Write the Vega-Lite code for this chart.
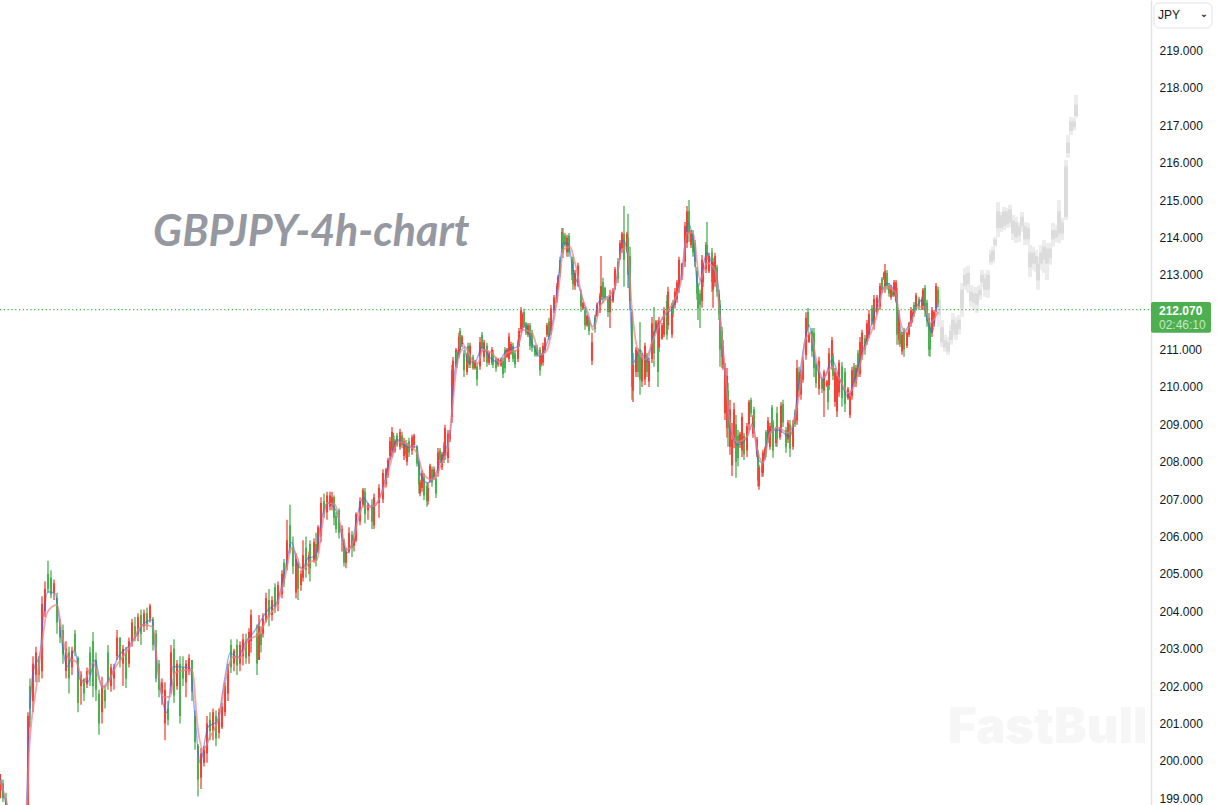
{
"$schema":"https://vega.github.io/schema/vega-lite/v6.json",
"width":1151,"height":805,
"autosize":{"type":"none"},
"padding":{"left":0,"top":0,"right":66,"bottom":0},
"background":"#ffffff",
"config":{"view":{"stroke":null}},
"datasets":{
"candles":[
{"t":1,"o":199.2,"h":199.65,"l":199.0,"c":199.5},{"t":6,"o":199.4,"h":199.5,"l":198.9,"c":199.0},{"t":12,"o":199.0,"h":199.15,"l":198.6,"c":198.7},
{"t":56,"o":198.7,"h":201.3,"l":198.5,"c":201.2},{"t":60,"o":202.0,"h":202.2,"l":200.9,"c":201.4},{"t":66,"o":201.6,"h":202.8,"l":201.3,"c":202.6},{"t":72,"o":202.3,"h":203.05,"l":202.1,"c":202.9},{"t":78,"o":202.7,"h":202.8,"l":202.1,"c":202.3},{"t":84,"o":202.4,"h":204.4,"l":202.2,"c":204.2},{"t":90,"o":204.0,"h":204.8,"l":203.85,"c":204.6},{"t":96,"o":205.0,"h":205.35,"l":204.5,"c":204.6},{"t":102,"o":204.9,"h":205.1,"l":204.35,"c":204.45},{"t":108,"o":204.5,"h":204.85,"l":204.3,"c":204.75},{"t":114,"o":204.35,"h":204.5,"l":203.4,"c":203.7},{"t":120,"o":203.6,"h":203.8,"l":203.15,"c":203.3},{"t":126,"o":203.5,"h":203.65,"l":202.6,"c":202.85},{"t":132,"o":202.4,"h":203.2,"l":202.2,"c":203.0},{"t":138,"o":202.9,"h":203.05,"l":201.8,"c":202.2},{"t":144,"o":202.5,"h":203.05,"l":202.3,"c":202.95},{"t":150,"o":203.4,"h":203.5,"l":202.8,"c":202.95},{"t":156,"o":202.75,"h":202.8,"l":201.3,"c":201.55},{"t":162,"o":202.0,"h":202.4,"l":201.5,"c":202.3},{"t":168,"o":202.2,"h":202.2,"l":201.6,"c":201.8},{"t":174,"o":202.05,"h":202.5,"l":201.95,"c":202.4},{"t":180,"o":202.9,"h":203.05,"l":202.0,"c":202.3},{"t":186,"o":203.2,"h":203.45,"l":201.7,"c":202.0},{"t":192,"o":202.7,"h":202.9,"l":201.6,"c":201.9},{"t":198,"o":201.8,"h":201.9,"l":200.7,"c":201.0},{"t":204,"o":201.3,"h":202.25,"l":201.0,"c":202.0},{"t":210,"o":201.9,"h":202.0,"l":201.4,"c":201.6},{"t":216,"o":202.9,"h":203.1,"l":201.9,"c":202.1},{"t":222,"o":202.0,"h":202.6,"l":201.85,"c":202.5},{"t":228,"o":202.2,"h":202.6,"l":201.9,"c":202.5},{"t":234,"o":202.8,"h":203.5,"l":202.7,"c":203.3},{"t":240,"o":203.3,"h":203.3,"l":202.5,"c":202.7},{"t":246,"o":202.6,"h":203.1,"l":202.0,"c":203.0},{"t":252,"o":202.9,"h":203.05,"l":201.95,"c":202.2},{"t":258,"o":202.6,"h":203.3,"l":202.5,"c":203.2},{"t":264,"o":203.2,"h":203.8,"l":203.05,"c":203.7},{"t":270,"o":203.6,"h":203.85,"l":203.2,"c":203.3},{"t":276,"o":203.4,"h":203.95,"l":203.2,"c":203.85},{"t":282,"o":203.9,"h":204.05,"l":203.1,"c":203.4},{"t":288,"o":203.6,"h":204.05,"l":203.45,"c":203.95},{"t":294,"o":203.95,"h":204.1,"l":203.5,"c":203.65},{"t":300,"o":203.8,"h":204.2,"l":203.7,"c":204.15},{"t":306,"o":203.8,"h":203.85,"l":202.95,"c":203.1},{"t":312,"o":203.4,"h":203.5,"l":202.1,"c":202.2},{"t":318,"o":202.6,"h":202.7,"l":201.7,"c":201.9},{"t":324,"o":201.8,"h":202.2,"l":201.5,"c":202.1},{"t":330,"o":201.0,"h":202.1,"l":200.55,"c":201.9},{"t":336,"o":201.4,"h":201.6,"l":200.95,"c":201.1},{"t":342,"o":202.0,"h":203.1,"l":201.8,"c":202.9},{"t":348,"o":203.0,"h":203.25,"l":201.55,"c":201.75},{"t":354,"o":202.0,"h":202.7,"l":201.9,"c":202.6},{"t":360,"o":202.6,"h":202.8,"l":201.0,"c":201.2},{"t":366,"o":202.5,"h":202.8,"l":202.0,"c":202.2},{"t":372,"o":202.1,"h":202.7,"l":201.7,"c":202.6},{"t":378,"o":202.4,"h":202.85,"l":202.3,"c":202.75},{"t":384,"o":202.7,"h":202.7,"l":201.6,"c":201.85},{"t":390,"o":201.2,"h":201.35,"l":200.3,"c":200.5},{"t":396,"o":200.4,"h":200.45,"l":199.05,"c":199.5},{"t":402,"o":199.55,"h":200.35,"l":199.25,"c":200.2},{"t":408,"o":199.95,"h":200.4,"l":199.85,"c":200.3},{"t":414,"o":200.2,"h":201.2,"l":199.95,"c":201.0},{"t":420,"o":201.1,"h":201.3,"l":200.55,"c":200.8},{"t":426,"o":200.8,"h":201.4,"l":200.55,"c":201.3},{"t":432,"o":201.2,"h":201.35,"l":200.4,"c":200.6},{"t":438,"o":200.75,"h":201.4,"l":200.6,"c":201.3},{"t":444,"o":200.9,"h":201.55,"l":200.85,"c":201.45},{"t":450,"o":201.3,"h":202.1,"l":201.2,"c":202.0},{"t":456,"o":201.8,"h":202.6,"l":201.6,"c":202.5},{"t":462,"o":203.1,"h":203.25,"l":202.35,"c":202.5},{"t":468,"o":202.6,"h":203.0,"l":202.4,"c":202.95},{"t":474,"o":203.1,"h":203.25,"l":202.3,"c":202.55},{"t":480,"o":202.6,"h":203.2,"l":202.4,"c":203.1},
{"t":486,"o":202.8,"h":203.4,"l":202.55,"c":203.25},{"t":492,"o":203.2,"h":203.4,"l":202.6,"c":202.75},{"t":498,"o":202.8,"h":203.55,"l":202.6,"c":203.45},{"t":502,"o":203.2,"h":204.05,"l":202.9,"c":203.9},{"t":514,"o":203.4,"h":203.65,"l":202.3,"c":202.6},{"t":518,"o":202.7,"h":203.9,"l":202.7,"c":203.6},{"t":522,"o":203.4,"h":203.6,"l":202.9,"c":203.1},{"t":526,"o":203.4,"h":203.95,"l":203.3,"c":203.8},{"t":532,"o":203.75,"h":204.5,"l":203.7,"c":204.35},{"t":538,"o":204.3,"h":204.6,"l":203.6,"c":203.85},{"t":544,"o":203.9,"h":204.4,"l":203.75,"c":204.3},{"t":550,"o":204.65,"h":204.75,"l":203.95,"c":204.1},{"t":556,"o":204.2,"h":204.8,"l":204.0,"c":204.7},{"t":564,"o":204.45,"h":205.1,"l":204.35,"c":205.0},{"t":568,"o":205.3,"h":205.4,"l":204.65,"c":204.75},{"t":574,"o":205.2,"h":206.45,"l":205.1,"c":205.9},{"t":580,"o":206.3,"h":206.85,"l":205.55,"c":205.7},{"t":586,"o":205.7,"h":206.0,"l":205.0,"c":205.2},{"t":592,"o":204.5,"h":205.55,"l":204.35,"c":205.4},{"t":596,"o":205.3,"h":205.35,"l":204.3,"c":204.6},{"t":602,"o":204.7,"h":205.1,"l":204.55,"c":205.0},{"t":606,"o":204.9,"h":205.9,"l":204.8,"c":205.5},{"t":612,"o":205.7,"h":206.0,"l":204.9,"c":205.1},{"t":618,"o":205.2,"h":205.6,"l":205.0,"c":205.5},{"t":620,"o":205.8,"h":205.9,"l":204.8,"c":205.15},{"t":628,"o":205.35,"h":205.95,"l":205.3,"c":205.85},{"t":632,"o":205.8,"h":206.1,"l":205.2,"c":205.35},{"t":636,"o":205.6,"h":206.3,"l":205.55,"c":206.25},{"t":642,"o":206.0,"h":207.05,"l":205.85,"c":206.9},{"t":648,"o":206.95,"h":207.15,"l":206.5,"c":206.6},{"t":654,"o":206.65,"h":207.2,"l":206.45,"c":207.1},{"t":660,"o":206.8,"h":207.2,"l":206.7,"c":207.1},{"t":664,"o":206.85,"h":207.2,"l":206.7,"c":207.05},{"t":668,"o":207.05,"h":207.1,"l":206.3,"c":206.5},{"t":672,"o":206.55,"h":206.65,"l":206.1,"c":206.2},{"t":678,"o":206.7,"h":206.75,"l":205.95,"c":206.1},{"t":684,"o":206.0,"h":206.3,"l":205.6,"c":206.2},{"t":688,"o":205.9,"h":205.95,"l":205.2,"c":205.3},{"t":692,"o":205.3,"h":205.7,"l":205.15,"c":205.6},{"t":698,"o":205.6,"h":206.25,"l":205.55,"c":206.1},{"t":704,"o":206.05,"h":206.15,"l":205.45,"c":205.7},{"t":708,"o":205.75,"h":206.0,"l":205.6,"c":205.95},{"t":712,"o":205.9,"h":206.65,"l":205.85,"c":206.6},{"t":720,"o":206.4,"h":207.05,"l":206.3,"c":206.95},{"t":726,"o":206.85,"h":207.3,"l":206.8,"c":207.25},{"t":730,"o":207.2,"h":207.3,"l":206.35,"c":206.6},{"t":736,"o":206.7,"h":206.9,"l":206.45,"c":206.85},{"t":744,"o":206.85,"h":207.0,"l":206.2,"c":206.4},{"t":748,"o":206.3,"h":207.15,"l":206.2,"c":207.05},{"t":758,"o":206.9,"h":207.4,"l":206.5,"c":207.3},{"t":766,"o":207.0,"h":207.8,"l":206.9,"c":207.7},
{"t":772,"o":207.4,"h":207.84,"l":207.31,"c":207.8},{"t":776,"o":207.65,"h":208.11,"l":207.57,"c":208.05},{"t":780,"o":208.15,"h":208.66,"l":208.05,"c":208.55},{"t":784,"o":208.3,"h":208.93,"l":208.13,"c":208.8},{"t":787,"o":208.7,"h":208.77,"l":208.24,"c":208.35},{"t":790,"o":208.3,"h":208.6,"l":208.24,"c":208.55},{"t":794,"o":208.7,"h":208.77,"l":208.4,"c":208.45},{"t":800,"o":208.4,"h":208.88,"l":208.32,"c":208.8},{"t":804,"o":208.7,"h":208.8,"l":208.37,"c":208.45},{"t":808,"o":208.15,"h":208.64,"l":208.05,"c":208.55},{"t":812,"o":208.5,"h":208.58,"l":208.1,"c":208.2},{"t":814,"o":208.0,"h":208.5,"l":207.9,"c":208.4},{"t":818,"o":208.55,"h":208.64,"l":208.13,"c":208.25},{"t":824,"o":208.3,"h":208.72,"l":208.19,"c":208.65},{"t":828,"o":208.45,"h":208.75,"l":208.37,"c":208.7},{"t":834,"o":208.4,"h":208.45,"l":207.87,"c":207.95},{"t":838,"o":208.0,"h":208.05,"l":207.15,"c":207.4},{"t":840,"o":207.15,"h":207.52,"l":207.08,"c":207.45},{"t":844,"o":207.3,"h":207.78,"l":207.2,"c":207.7},{"t":848,"o":207.6,"h":207.7,"l":206.98,"c":207.1},{"t":854,"o":207.35,"h":207.44,"l":206.8,"c":206.95},{"t":856,"o":206.95,"h":207.44,"l":206.85,"c":207.3},{"t":860,"o":207.5,"h":207.95,"l":207.44,"c":207.9},{"t":864,"o":207.8,"h":207.87,"l":207.33,"c":207.45},{"t":868,"o":207.6,"h":207.87,"l":207.52,"c":207.8},{"t":872,"o":207.55,"h":207.65,"l":207.03,"c":207.15},{"t":876,"o":207.7,"h":208.37,"l":207.6,"c":208.25},{"t":880,"o":208.3,"h":208.37,"l":207.97,"c":208.05},{"t":884,"o":207.85,"h":208.26,"l":207.78,"c":208.2},{"t":888,"o":208.45,"h":208.53,"l":207.97,"c":208.05},{"t":890,"o":208.15,"h":208.99,"l":208.05,"c":208.9},{"t":896,"o":208.1,"h":208.85,"l":207.97,"c":208.75},{"t":900,"o":208.6,"h":208.85,"l":208.53,"c":208.8},{"t":904,"o":209.2,"h":210.59,"l":209.04,"c":210.45},{"t":906,"o":209.9,"h":210.8,"l":209.74,"c":210.7},{"t":912,"o":210.6,"h":211.04,"l":210.54,"c":211.0},{"t":914,"o":210.95,"h":210.99,"l":210.51,"c":210.6},{"t":918,"o":210.85,"h":211.45,"l":210.78,"c":211.35},{"t":920,"o":211.5,"h":211.58,"l":210.91,"c":211.0},{"t":924,"o":211.15,"h":211.39,"l":211.07,"c":211.35},{"t":928,"o":210.9,"h":210.99,"l":210.27,"c":210.45},{"t":934,"o":210.4,"h":210.91,"l":210.32,"c":210.85},{"t":936,"o":211.1,"h":211.18,"l":210.51,"c":210.6},{"t":940,"o":210.6,"h":211.18,"l":210.51,"c":211.1},{"t":946,"o":210.8,"h":210.86,"l":210.46,"c":210.5},{"t":950,"o":210.5,"h":210.73,"l":210.46,"c":210.7},{"t":954,"o":210.55,"h":210.64,"l":210.03,"c":210.2},{"t":960,"o":210.55,"h":211.34,"l":210.46,"c":211.2},{"t":964,"o":211.4,"h":211.47,"l":210.94,"c":211.05},{"t":968,"o":210.8,"h":211.26,"l":210.67,"c":211.2},{"t":974,"o":211.1,"h":211.18,"l":210.54,"c":210.65},{"t":978,"o":210.65,"h":210.94,"l":210.59,"c":210.9},{"t":984,"o":210.65,"h":211.07,"l":210.59,"c":211.0},{"t":986,"o":210.9,"h":210.99,"l":210.51,"c":210.6},{"t":992,"o":210.75,"h":210.81,"l":210.41,"c":210.5},{"t":996,"o":210.6,"h":210.78,"l":210.54,"c":210.75},{"t":1002,"o":210.58,"h":210.78,"l":210.54,"c":210.72},{"t":1006,"o":210.7,"h":210.78,"l":210.24,"c":210.35},{"t":1010,"o":211.0,"h":211.07,"l":210.38,"c":210.5},{"t":1014,"o":210.8,"h":211.04,"l":210.78,"c":211.0},{"t":1018,"o":210.75,"h":211.45,"l":210.67,"c":211.35},{"t":1022,"o":210.9,"h":211.21,"l":210.86,"c":211.15},{"t":1026,"o":211.1,"h":211.18,"l":210.67,"c":210.75},{"t":1030,"o":210.9,"h":210.99,"l":210.51,"c":210.6},{"t":1036,"o":210.75,"h":211.26,"l":210.67,"c":211.2},{"t":1038,"o":211.1,"h":211.58,"l":211.07,"c":211.5},{"t":1042,"o":211.55,"h":212.14,"l":211.45,"c":212.05},{"t":1044,"o":211.6,"h":212.0,"l":211.53,"c":211.95},{"t":1048,"o":212.0,"h":212.09,"l":211.58,"c":211.65},{"t":1052,"o":211.7,"h":211.74,"l":211.39,"c":211.45},{"t":1056,"o":211.4,"h":211.71,"l":211.34,"c":211.65},{"t":1060,"o":211.65,"h":211.71,"l":210.99,"c":211.1},{"t":1064,"o":211.45,"h":211.53,"l":210.94,"c":211.05},{"t":1070,"o":211.1,"h":211.13,"l":210.81,"c":210.85},{"t":1074,"o":211.05,"h":211.13,"l":210.81,"c":210.85},{"t":1080,"o":211.0,"h":211.07,"l":210.3,"c":210.45},{"t":1082,"o":210.6,"h":210.91,"l":210.54,"c":210.85},{"t":1086,"o":210.65,"h":211.18,"l":210.57,"c":211.1},{"t":1090,"o":211.0,"h":211.34,"l":210.91,"c":211.3},{"t":1094,"o":211.4,"h":211.71,"l":211.34,"c":211.65},{"t":1098,"o":211.75,"h":211.85,"l":211.26,"c":211.35},{"t":1102,"o":211.5,"h":212.19,"l":211.39,"c":212.1},{"t":1108,"o":212.05,"h":212.46,"l":211.98,"c":212.4},{"t":1114,"o":212.35,"h":212.78,"l":212.25,"c":212.7},{"t":1116,"o":212.65,"h":213.0,"l":212.6,"c":212.95},{"t":1120,"o":213.4,"h":213.48,"l":212.94,"c":213.05},{"t":1124,"o":213.7,"h":214.25,"l":213.59,"c":214.15},{"t":1126,"o":214.1,"h":214.25,"l":213.45,"c":213.6},{"t":1130,"o":214.05,"h":214.12,"l":213.75,"c":213.8},{"t":1134,"o":213.6,"h":214.07,"l":213.48,"c":214.0},{"t":1138,"o":214.05,"h":214.12,"l":213.48,"c":213.6},{"t":1144,"o":213.4,"h":213.48,"l":212.86,"c":213.0},{"t":1146,"o":213.35,"h":213.48,"l":212.6,"c":212.75},{"t":1150,"o":212.7,"h":213.13,"l":212.6,"c":213.05},{"t":1156,"o":212.8,"h":213.32,"l":212.68,"c":213.25},{"t":1162,"o":212.5,"h":212.6,"l":212.01,"c":212.15},{"t":1166,"o":212.1,"h":212.27,"l":212.06,"c":212.25},{"t":1170,"o":212.05,"h":212.14,"l":211.53,"c":211.65},{"t":1174,"o":211.65,"h":211.93,"l":211.61,"c":211.9},{"t":1178,"o":211.8,"h":211.87,"l":211.39,"c":211.5},{"t":1184,"o":210.7,"h":211.45,"l":210.59,"c":211.2},{"t":1190,"o":211.85,"h":211.93,"l":211.45,"c":211.55},{"t":1194,"o":211.9,"h":212.25,"l":211.87,"c":212.2},{"t":1200,"o":212.05,"h":212.52,"l":211.98,"c":212.45},{"t":1202,"o":212.4,"h":213.5,"l":212.33,"c":212.7},{"t":1206,"o":212.8,"h":212.92,"l":212.25,"c":212.4},{"t":1210,"o":212.65,"h":212.68,"l":212.33,"c":212.4},{"t":1216,"o":212.35,"h":212.41,"l":211.87,"c":212.0},{"t":1220,"o":212.0,"h":212.6,"l":211.58,"c":212.45},{"t":1226,"o":212.3,"h":212.65,"l":212.25,"c":212.6},{"t":1230,"o":212.7,"h":213.21,"l":212.6,"c":213.15},{"t":1236,"o":213.35,"h":213.45,"l":212.78,"c":212.9},{"t":1240,"o":213.45,"h":213.93,"l":213.4,"c":213.85},{"t":1244,"o":213.7,"h":214.15,"l":213.59,"c":214.1},{"t":1248,"o":214.1,"h":214.84,"l":212.68,"c":213.4},{"t":1254,"o":213.65,"h":214.15,"l":213.59,"c":214.1},{"t":1256,"o":214.0,"h":214.63,"l":212.65,"c":213.0},{"t":1260,"o":213.5,"h":213.75,"l":212.06,"c":212.3},{"t":1264,"o":212.0,"h":212.06,"l":209.66,"c":210.0},{"t":1266,"o":209.9,"h":210.91,"l":209.6,"c":210.6},{"t":1272,"o":210.4,"h":211.07,"l":210.27,"c":211.0},{"t":1276,"o":210.95,"h":211.04,"l":210.27,"c":210.4},{"t":1280,"o":211.0,"h":211.74,"l":209.79,"c":210.2},{"t":1284,"o":210.15,"h":210.91,"l":210.0,"c":210.8},{"t":1290,"o":210.2,"h":211.18,"l":210.05,"c":211.1},{"t":1294,"o":210.85,"h":210.91,"l":210.27,"c":210.4},{"t":1298,"o":210.15,"h":210.78,"l":210.0,"c":210.7},{"t":1304,"o":210.75,"h":211.87,"l":210.64,"c":211.7},{"t":1308,"o":211.5,"h":212.14,"l":210.54,"c":210.9},{"t":1312,"o":211.5,"h":211.79,"l":211.45,"c":211.75},{"t":1316,"o":211.7,"h":211.79,"l":210.0,"c":210.4},{"t":1318,"o":211.05,"h":211.87,"l":210.94,"c":211.75},{"t":1324,"o":211.3,"h":211.71,"l":211.26,"c":211.65},{"t":1328,"o":211.4,"h":212.14,"l":211.34,"c":212.05},{"t":1334,"o":212.3,"h":212.46,"l":211.26,"c":211.4},{"t":1336,"o":211.65,"h":212.68,"l":211.53,"c":212.55},{"t":1344,"o":211.4,"h":212.25,"l":211.31,"c":212.15},{"t":1346,"o":212.25,"h":212.33,"l":211.87,"c":211.95},{"t":1350,"o":212.2,"h":212.65,"l":212.1,"c":212.55},{"t":1354,"o":212.35,"h":212.86,"l":212.25,"c":212.8},{"t":1358,"o":212.65,"h":213.48,"l":212.52,"c":213.4},{"t":1364,"o":212.95,"h":213.32,"l":212.86,"c":213.3},{"t":1370,"o":213.35,"h":214.41,"l":213.21,"c":214.3},{"t":1374,"o":213.85,"h":214.84,"l":213.72,"c":214.7},{"t":1378,"o":214.7,"h":215.0,"l":213.88,"c":214.1},{"t":1382,"o":213.8,"h":214.2,"l":213.72,"c":214.15},{"t":1386,"o":214.1,"h":214.2,"l":213.48,"c":213.6},{"t":1390,"o":213.85,"h":213.93,"l":213.21,"c":213.35},{"t":1394,"o":213.1,"h":213.21,"l":212.33,"c":212.5},{"t":1396,"o":212.65,"h":212.78,"l":211.79,"c":212.1},{"t":1400,"o":212.5,"h":212.6,"l":211.58,"c":212.2},{"t":1404,"o":212.3,"h":213.53,"l":212.12,"c":213.4},{"t":1406,"o":212.8,"h":213.32,"l":212.68,"c":213.25},{"t":1412,"o":213.15,"h":213.88,"l":213.05,"c":213.8},{"t":1414,"o":213.8,"h":214.41,"l":213.4,"c":213.5},{"t":1418,"o":213.1,"h":213.59,"l":213.05,"c":213.5},{"t":1424,"o":213.6,"h":213.72,"l":212.54,"c":212.8},{"t":1426,"o":212.6,"h":213.45,"l":212.12,"c":213.35},{"t":1430,"o":212.8,"h":213.59,"l":212.68,"c":213.5},{"t":1434,"o":213.2,"h":213.27,"l":212.41,"c":212.55},{"t":1438,"o":212.5,"h":212.6,"l":211.79,"c":211.95},{"t":1440,"o":212.2,"h":212.33,"l":210.54,"c":211.0},{"t":1444,"o":211.5,"h":211.61,"l":210.51,"c":210.8},{"t":1446,"o":210.6,"h":211.26,"l":210.46,"c":211.1},{"t":1450,"o":209.3,"h":210.64,"l":209.12,"c":210.5},{"t":1454,"o":208.9,"h":210.51,"l":208.64,"c":210.3},{"t":1456,"o":209.9,"h":210.11,"l":208.4,"c":208.9},{"t":1460,"o":208.4,"h":209.66,"l":208.19,"c":209.4},{"t":1464,"o":207.9,"h":209.04,"l":207.62,"c":208.6},{"t":1468,"o":208.6,"h":209.58,"l":208.37,"c":209.4},{"t":1472,"o":209.0,"h":209.25,"l":207.57,"c":208.0},{"t":1476,"o":208.7,"h":208.85,"l":207.87,"c":208.1},{"t":1480,"o":208.5,"h":208.8,"l":208.37,"c":208.75},{"t":1484,"o":208.3,"h":209.31,"l":208.13,"c":209.2},{"t":1488,"o":208.7,"h":208.77,"l":208.05,"c":208.2},{"t":1494,"o":208.3,"h":209.04,"l":208.13,"c":208.95},{"t":1498,"o":209.0,"h":209.66,"l":208.85,"c":209.6},{"t":1502,"o":209.65,"h":209.71,"l":209.2,"c":209.3},{"t":1506,"o":208.75,"h":209.25,"l":208.64,"c":209.2},{"t":1508,"o":209.4,"h":209.47,"l":208.77,"c":208.9},{"t":1514,"o":208.2,"h":208.66,"l":208.13,"c":208.6},{"t":1516,"o":208.25,"h":208.32,"l":207.33,"c":207.5},{"t":1518,"o":207.35,"h":207.92,"l":207.25,"c":207.85},{"t":1524,"o":207.9,"h":207.97,"l":207.6,"c":207.7},{"t":1526,"o":207.7,"h":208.32,"l":207.6,"c":208.25},{"t":1530,"o":208.1,"h":208.4,"l":208.05,"c":208.35},{"t":1532,"o":208.8,"h":208.85,"l":208.13,"c":208.25},{"t":1536,"o":208.6,"h":209.2,"l":208.5,"c":209.1},{"t":1540,"o":208.4,"h":209.04,"l":208.32,"c":208.95},{"t":1544,"o":209.45,"h":209.52,"l":208.77,"c":208.9},{"t":1546,"o":209.05,"h":209.12,"l":208.11,"c":208.3},{"t":1552,"o":208.5,"h":208.93,"l":208.4,"c":208.85},{"t":1554,"o":209.3,"h":209.47,"l":208.4,"c":208.6},{"t":1560,"o":208.65,"h":208.93,"l":208.59,"c":208.9},{"t":1562,"o":208.85,"h":209.6,"l":208.77,"c":209.5},{"t":1566,"o":209.55,"h":209.66,"l":208.93,"c":209.05},{"t":1572,"o":208.85,"h":208.93,"l":208.24,"c":208.4},{"t":1576,"o":208.6,"h":209.12,"l":208.5,"c":209.05},{"t":1580,"o":209.0,"h":209.12,"l":208.13,"c":208.35},{"t":1586,"o":208.4,"h":209.12,"l":208.32,"c":209.0},{"t":1590,"o":209.3,"h":209.39,"l":208.93,"c":209.0},{"t":1594,"o":209.1,"h":210.73,"l":208.99,"c":210.5},{"t":1598,"o":210.4,"h":210.54,"l":209.74,"c":209.9},{"t":1602,"o":209.8,"h":210.46,"l":209.66,"c":210.35},{"t":1606,"o":210.2,"h":210.81,"l":210.11,"c":210.7},{"t":1612,"o":210.85,"h":212.0,"l":210.73,"c":211.85},{"t":1616,"o":212.0,"h":212.11,"l":211.45,"c":211.6},{"t":1618,"o":211.2,"h":211.45,"l":211.18,"c":211.4},{"t":1624,"o":211.5,"h":211.58,"l":210.81,"c":210.95},{"t":1628,"o":211.45,"h":211.58,"l":210.27,"c":210.5},{"t":1632,"o":210.6,"h":210.64,"l":209.98,"c":210.1},{"t":1638,"o":209.95,"h":210.81,"l":209.79,"c":210.7},{"t":1644,"o":210.2,"h":210.27,"l":209.84,"c":209.95},{"t":1648,"o":209.9,"h":210.46,"l":209.2,"c":210.4},{"t":1654,"o":210.02,"h":210.19,"l":210.0,"c":210.15},{"t":1656,"o":210.05,"h":210.11,"l":209.39,"c":209.6},{"t":1658,"o":210.05,"h":211.04,"l":209.92,"c":210.9},{"t":1664,"o":210.55,"h":211.34,"l":210.46,"c":211.25},{"t":1666,"o":210.85,"h":210.91,"l":210.19,"c":210.3},{"t":1670,"o":209.6,"h":210.51,"l":209.47,"c":210.4},{"t":1674,"o":209.35,"h":210.38,"l":209.2,"c":210.3},{"t":1678,"o":209.85,"h":210.73,"l":209.74,"c":210.65},{"t":1684,"o":210.55,"h":210.67,"l":209.47,"c":209.7},{"t":1690,"o":210.4,"h":210.51,"l":209.33,"c":209.55},{"t":1696,"o":209.7,"h":210.0,"l":209.66,"c":209.95},{"t":1700,"o":209.25,"h":209.84,"l":209.17,"c":209.75},{"t":1704,"o":209.75,"h":210.54,"l":209.66,"c":210.45},{"t":1708,"o":210.55,"h":210.64,"l":210.0,"c":210.1},{"t":1712,"o":210.1,"h":210.59,"l":210.0,"c":210.5},{"t":1716,"o":210.9,"h":210.99,"l":210.27,"c":210.4},{"t":1720,"o":210.35,"h":211.34,"l":210.27,"c":211.2},{"t":1724,"o":210.85,"h":211.53,"l":210.73,"c":211.45},{"t":1730,"o":211.3,"h":211.39,"l":210.86,"c":211.0},{"t":1734,"o":211.2,"h":211.79,"l":211.13,"c":211.7},{"t":1738,"o":211.4,"h":212.06,"l":211.31,"c":211.95},{"t":1744,"o":212.1,"h":212.19,"l":211.66,"c":211.75},{"t":1748,"o":211.65,"h":212.46,"l":211.53,"c":212.35},{"t":1754,"o":212.0,"h":212.46,"l":211.93,"c":212.4},{"t":1760,"o":212.15,"h":212.78,"l":212.06,"c":212.7},{"t":1764,"o":212.9,"h":212.94,"l":212.52,"c":212.6},{"t":1768,"o":212.9,"h":213.08,"l":212.86,"c":213.05},{"t":1770,"o":212.7,"h":213.29,"l":212.52,"c":213.1},{"t":1774,"o":213.05,"h":213.13,"l":212.6,"c":212.7},{"t":1778,"o":212.7,"h":212.78,"l":212.41,"c":212.5},{"t":1782,"o":212.4,"h":212.73,"l":212.33,"c":212.65},{"t":1786,"o":212.55,"h":212.6,"l":212.41,"c":212.45},{"t":1788,"o":212.45,"h":212.86,"l":212.41,"c":212.8},{"t":1792,"o":212.3,"h":212.86,"l":212.25,"c":212.8},{"t":1794,"o":212.5,"h":212.65,"l":211.13,"c":211.4},{"t":1798,"o":211.25,"h":212.06,"l":211.13,"c":211.95},{"t":1800,"o":211.45,"h":211.53,"l":211.07,"c":211.15},{"t":1804,"o":210.95,"h":211.47,"l":210.86,"c":211.4},{"t":1808,"o":211.5,"h":211.58,"l":210.81,"c":211.0},{"t":1814,"o":211.1,"h":211.47,"l":211.04,"c":211.45},{"t":1818,"o":211.4,"h":211.74,"l":211.34,"c":211.7},{"t":1822,"o":211.7,"h":212.14,"l":211.61,"c":212.05},{"t":1824,"o":211.75,"h":212.06,"l":211.71,"c":212.0},{"t":1828,"o":212.2,"h":212.27,"l":211.87,"c":211.95},{"t":1832,"o":212.15,"h":212.52,"l":212.06,"c":212.45},{"t":1838,"o":212.35,"h":212.41,"l":212.06,"c":212.15},{"t":1844,"o":212.1,"h":212.41,"l":212.06,"c":212.35},{"t":1846,"o":212.15,"h":212.65,"l":212.06,"c":212.6},{"t":1850,"o":212.65,"h":212.73,"l":211.87,"c":212.05},{"t":1854,"o":212.25,"h":212.33,"l":211.61,"c":211.75},{"t":1858,"o":211.85,"h":211.98,"l":210.83,"c":211.0},{"t":1860,"o":211.6,"h":211.71,"l":210.81,"c":211.0},{"t":1864,"o":211.45,"h":212.14,"l":211.34,"c":212.05},{"t":1868,"o":211.7,"h":212.06,"l":211.61,"c":212.0},{"t":1872,"o":212.1,"h":212.78,"l":212.01,"c":212.7},{"t":1876,"o":212.6,"h":212.68,"l":212.14,"c":212.25}
],
"ghost":[
{"t":1878,"o":212.33,"h":212.68,"l":211.61,"c":211.93},{"t":1884,"o":211.6,"h":211.79,"l":211.07,"c":211.2},{"t":1890,"o":211.25,"h":211.39,"l":210.94,"c":211.05},{"t":1896,"o":211.2,"h":211.34,"l":210.86,"c":210.95},{"t":1902,"o":211.5,"h":211.66,"l":211.13,"c":211.25},{"t":1906,"o":211.8,"h":211.98,"l":211.34,"c":211.5},{"t":1912,"o":211.7,"h":211.87,"l":211.26,"c":211.4},{"t":1918,"o":211.8,"h":211.93,"l":211.4,"c":211.55},{"t":1924,"o":212.6,"h":212.78,"l":211.87,"c":212.1},{"t":1930,"o":213.0,"h":213.19,"l":212.6,"c":212.7},{"t":1936,"o":213.05,"h":213.24,"l":212.52,"c":212.75},{"t":1942,"o":212.55,"h":212.73,"l":212.14,"c":212.3},{"t":1948,"o":212.5,"h":212.68,"l":212.06,"c":212.25},{"t":1954,"o":212.5,"h":212.68,"l":211.98,"c":212.2},{"t":1960,"o":212.6,"h":212.73,"l":212.33,"c":212.45},{"t":1964,"o":213.0,"h":213.13,"l":212.68,"c":212.8},{"t":1970,"o":212.9,"h":213.05,"l":212.41,"c":212.6},{"t":1976,"o":213.0,"h":213.13,"l":212.38,"c":212.6},{"t":1982,"o":213.55,"h":213.67,"l":213.27,"c":213.35},{"t":1986,"o":213.65,"h":213.75,"l":213.32,"c":213.4},{"t":1990,"o":213.95,"h":214.01,"l":213.75,"c":213.8},{"t":1996,"o":214.7,"h":214.95,"l":214.01,"c":214.25},{"t":2002,"o":214.6,"h":214.68,"l":214.15,"c":214.25},{"t":2008,"o":214.7,"h":214.81,"l":214.2,"c":214.3},{"t":2014,"o":214.7,"h":214.79,"l":214.25,"c":214.35},{"t":2020,"o":214.75,"h":214.87,"l":214.28,"c":214.4},{"t":2026,"o":214.45,"h":214.6,"l":213.93,"c":214.1},{"t":2032,"o":214.4,"h":214.55,"l":213.85,"c":214.0},{"t":2038,"o":214.3,"h":214.41,"l":213.88,"c":214.05},{"t":2044,"o":214.55,"h":214.68,"l":214.15,"c":214.3},{"t":2050,"o":214.3,"h":214.41,"l":213.8,"c":213.95},{"t":2056,"o":214.25,"h":214.39,"l":213.8,"c":213.95},{"t":2060,"o":213.6,"h":213.8,"l":212.94,"c":213.2},{"t":2066,"o":213.6,"h":213.75,"l":213.13,"c":213.3},{"t":2072,"o":213.5,"h":213.67,"l":213.08,"c":213.3},{"t":2076,"o":213.3,"h":213.48,"l":212.6,"c":212.85},{"t":2082,"o":213.6,"h":213.8,"l":213.13,"c":213.3},{"t":2088,"o":213.75,"h":213.93,"l":213.05,"c":213.4},{"t":2094,"o":213.7,"h":213.85,"l":212.86,"c":213.3},{"t":2100,"o":213.7,"h":213.85,"l":213.27,"c":213.45},{"t":2106,"o":214.2,"h":214.39,"l":213.75,"c":213.95},{"t":2112,"o":214.2,"h":214.33,"l":213.88,"c":214.0},{"t":2118,"o":214.7,"h":215.0,"l":213.85,"c":214.1},{"t":2124,"o":214.4,"h":214.52,"l":213.93,"c":214.1},{"t":2132,"o":215.9,"h":216.07,"l":214.47,"c":214.55},{"t":2136,"o":216.53,"h":216.74,"l":216.13,"c":216.26},{"t":2142,"o":217.1,"h":217.22,"l":216.74,"c":216.85},{"t":2148,"o":217.1,"h":217.2,"l":216.87,"c":216.95},{"t":2152,"o":217.55,"h":217.81,"l":217.2,"c":217.25}
],
"blue":[
{"t":0,"v":199.55},{"t":10,"v":198.96},{"t":28,"v":198.15},{"t":52,"v":198.7},{"t":56,"v":200.03},{"t":60,"v":201.37},{"t":66,"v":202.36},{"t":80,"v":202.89},{"t":86,"v":203.77},{"t":96,"v":204.52},{"t":110,"v":204.49},{"t":124,"v":203.16},{"t":134,"v":202.52},{"t":150,"v":202.97},{"t":160,"v":202.17},{"t":176,"v":202.11},{"t":190,"v":202.7},{"t":204,"v":201.98},{"t":220,"v":202.22},{"t":236,"v":202.78},{"t":256,"v":203.05},{"t":274,"v":203.37},{"t":286,"v":203.64},{"t":304,"v":203.77},{"t":310,"v":203.05},{"t":320,"v":201.98},{"t":334,"v":201.29},{"t":346,"v":202.52},{"t":380,"v":202.49},{"t":390,"v":201.18},{"t":400,"v":199.95},{"t":416,"v":200.91},{"t":434,"v":201.05},{"t":450,"v":202.25},{"t":460,"v":202.89},{"t":476,"v":202.76},{"t":490,"v":203.16},{"t":506,"v":203.42},{"t":536,"v":204.04},{"t":554,"v":204.25},{"t":570,"v":205.11},{"t":584,"v":205.85},{"t":596,"v":205.19},{"t":606,"v":205.16},{"t":616,"v":205.43},{"t":630,"v":205.46},{"t":644,"v":206.53},{"t":656,"v":206.9},{"t":674,"v":206.64},{"t":684,"v":205.99},{"t":694,"v":205.56},{"t":704,"v":205.83},{"t":716,"v":206.64},{"t":726,"v":207.04},{"t":744,"v":206.77},{"t":756,"v":206.93},{"t":770,"v":207.52},{"t":780,"v":208.05},{"t":794,"v":208.59},{"t":816,"v":208.4},{"t":834,"v":208.4},{"t":840,"v":207.7},{"t":854,"v":207.44},{"t":870,"v":207.65},{"t":886,"v":208.19},{"t":900,"v":208.67},{"t":906,"v":210.0},{"t":916,"v":210.81},{"t":926,"v":211.18},{"t":936,"v":210.67},{"t":950,"v":210.67},{"t":964,"v":211.07},{"t":980,"v":210.78},{"t":996,"v":210.67},{"t":1014,"v":210.99},{"t":1034,"v":211.07},{"t":1050,"v":211.66},{"t":1064,"v":211.18},{"t":1080,"v":210.81},{"t":1094,"v":211.18},{"t":1106,"v":211.79},{"t":1120,"v":213.27},{"t":1126,"v":213.85},{"t":1136,"v":213.85},{"t":1146,"v":213.13},{"t":1160,"v":212.6},{"t":1170,"v":212.14},{"t":1186,"v":211.61},{"t":1196,"v":212.25},{"t":1214,"v":212.41},{"t":1224,"v":212.33},{"t":1234,"v":212.94},{"t":1246,"v":213.93},{"t":1254,"v":213.67},{"t":1260,"v":212.25},{"t":1266,"v":210.64},{"t":1280,"v":210.99},{"t":1294,"v":210.67},{"t":1306,"v":211.34},{"t":1326,"v":211.87},{"t":1346,"v":212.14},{"t":1364,"v":213.13},{"t":1376,"v":214.39},{"t":1386,"v":213.93},{"t":1396,"v":212.68},{"t":1414,"v":213.59},{"t":1426,"v":213.19},{"t":1436,"v":212.78},{"t":1444,"v":211.18},{"t":1454,"v":209.84},{"t":1460,"v":208.93},{"t":1476,"v":208.45},{"t":1494,"v":208.67},{"t":1506,"v":209.04},{"t":1516,"v":208.05},{"t":1526,"v":207.97},{"t":1540,"v":208.85},{"t":1556,"v":208.85},{"t":1580,"v":208.67},{"t":1590,"v":209.31},{"t":1600,"v":210.38},{"t":1610,"v":211.26},{"t":1618,"v":211.66},{"t":1630,"v":210.73},{"t":1646,"v":210.19},{"t":1664,"v":210.73},{"t":1680,"v":210.19},{"t":1696,"v":209.74},{"t":1714,"v":210.46},{"t":1726,"v":210.99},{"t":1740,"v":211.53},{"t":1750,"v":212.01},{"t":1760,"v":212.41},{"t":1774,"v":212.78},{"t":1790,"v":212.52},{"t":1804,"v":211.45},{"t":1816,"v":211.61},{"t":1830,"v":212.06},{"t":1844,"v":212.33},{"t":1856,"v":211.71},{"t":1864,"v":211.45},{"t":1874,"v":212.25}
],
"pink":[
{"t":0,"v":199.49},{"t":12,"v":198.96},{"t":28,"v":198.15},{"t":54,"v":198.82},{"t":58,"v":200.22},{"t":74,"v":202.09},{"t":84,"v":203.16},{"t":94,"v":203.96},{"t":114,"v":204.17},{"t":126,"v":203.24},{"t":136,"v":202.78},{"t":154,"v":202.62},{"t":166,"v":202.09},{"t":186,"v":202.62},{"t":206,"v":201.95},{"t":234,"v":202.57},{"t":260,"v":203.05},{"t":286,"v":203.64},{"t":306,"v":203.58},{"t":314,"v":202.7},{"t":326,"v":201.71},{"t":340,"v":201.71},{"t":350,"v":202.36},{"t":384,"v":202.44},{"t":396,"v":200.83},{"t":406,"v":200.3},{"t":420,"v":200.64},{"t":440,"v":201.29},{"t":450,"v":202.09},{"t":466,"v":202.78},{"t":480,"v":202.76},{"t":496,"v":203.24},{"t":516,"v":203.37},{"t":536,"v":203.85},{"t":556,"v":204.25},{"t":570,"v":204.92},{"t":584,"v":205.7},{"t":594,"v":205.46},{"t":604,"v":205.11},{"t":620,"v":205.32},{"t":634,"v":205.38},{"t":644,"v":206.26},{"t":654,"v":206.9},{"t":670,"v":206.85},{"t":684,"v":206.1},{"t":694,"v":205.65},{"t":704,"v":205.78},{"t":716,"v":206.45},{"t":726,"v":206.8},{"t":744,"v":206.8},{"t":764,"v":207.17},{"t":776,"v":207.7},{"t":784,"v":208.11},{"t":796,"v":208.53},{"t":816,"v":208.45},{"t":834,"v":208.24},{"t":846,"v":207.7},{"t":864,"v":207.52},{"t":884,"v":207.97},{"t":896,"v":208.4},{"t":904,"v":209.31},{"t":910,"v":210.19},{"t":920,"v":210.91},{"t":930,"v":211.07},{"t":944,"v":210.73},{"t":956,"v":210.64},{"t":966,"v":210.99},{"t":984,"v":210.91},{"t":1000,"v":210.64},{"t":1014,"v":210.91},{"t":1034,"v":210.99},{"t":1046,"v":211.53},{"t":1064,"v":211.45},{"t":1080,"v":210.86},{"t":1094,"v":210.99},{"t":1104,"v":211.53},{"t":1120,"v":212.94},{"t":1126,"v":213.67},{"t":1140,"v":213.75},{"t":1150,"v":213.32},{"t":1164,"v":212.41},{"t":1176,"v":211.98},{"t":1186,"v":211.53},{"t":1200,"v":212.14},{"t":1216,"v":212.41},{"t":1230,"v":212.68},{"t":1244,"v":213.67},{"t":1254,"v":213.72},{"t":1264,"v":212.06},{"t":1274,"v":211.07},{"t":1290,"v":210.73},{"t":1306,"v":211.26},{"t":1326,"v":211.87},{"t":1346,"v":212.25},{"t":1364,"v":212.94},{"t":1374,"v":214.12},{"t":1386,"v":214.12},{"t":1400,"v":212.86},{"t":1414,"v":213.32},{"t":1430,"v":213.13},{"t":1440,"v":211.87},{"t":1450,"v":210.46},{"t":1460,"v":209.04},{"t":1474,"v":208.53},{"t":1494,"v":208.67},{"t":1504,"v":208.99},{"t":1516,"v":208.24},{"t":1526,"v":207.97},{"t":1540,"v":208.77},{"t":1556,"v":208.91},{"t":1576,"v":208.77},{"t":1594,"v":209.47},{"t":1600,"v":209.98},{"t":1610,"v":211.21},{"t":1620,"v":211.45},{"t":1634,"v":210.64},{"t":1646,"v":210.24},{"t":1664,"v":210.54},{"t":1680,"v":210.19},{"t":1696,"v":209.84},{"t":1714,"v":210.24},{"t":1724,"v":210.81},{"t":1736,"v":211.26},{"t":1750,"v":211.74},{"t":1770,"v":212.68},{"t":1790,"v":212.55},{"t":1800,"v":211.79},{"t":1810,"v":211.45},{"t":1824,"v":211.79},{"t":1836,"v":212.14},{"t":1850,"v":212.14},{"t":1860,"v":211.71},{"t":1876,"v":212.01}
]
},
"encoding":{"x":{"field":"t","type":"quantitative","scale":{"domain":[0,2302],"nice":false,"zero":false},"axis":null}},
"layer":[
{"data":{"name":"ghost"},"mark":{"type":"rule","strokeWidth":4,"color":"#ececec"},
 "encoding":{"y":{"field":"h","type":"quantitative","title":null,"scale":{"domain":[198.82,220.35],"nice":false,"zero":false},
  "axis":{"orient":"right","title":null,"values":[199,200,201,202,203,204,205,206,207,208,209,210,211,212,213,214,215,216,217,218,219],"format":".3f","grid":false,"ticks":false,"labelFont":"Liberation Sans","labelFontSize":12,"labelColor":"#131722","labelPadding":8,"domainColor":"#e0e3eb","domainWidth":1.5,"labelBound":false,"labelOverlap":false}},
  "y2":{"field":"l"}}},
{"data":{"name":"ghost"},"mark":{"type":"rule","strokeWidth":4,"color":"#dcdcdc"},
 "encoding":{"y":{"field":"o","type":"quantitative","title":null},"y2":{"field":"c"}}},
{"data":{"name":"candles"},"mark":{"type":"rule","strokeWidth":1.3},
 "encoding":{"y":{"field":"h","type":"quantitative","title":null},"y2":{"field":"l"},
  "color":{"condition":{"test":"datum.c>=datum.o","value":"#f44336"},"value":"#4caf50"}}},
{"data":{"name":"candles"},"mark":{"type":"rule","strokeWidth":2.1},
 "encoding":{"y":{"field":"o","type":"quantitative","title":null},"y2":{"field":"c"},
  "color":{"condition":{"test":"datum.c>=datum.o","value":"#f44336"},"value":"#4caf50"}}},
{"data":{"name":"blue"},"mark":{"type":"line","color":"#2962ff","strokeWidth":1.3,"opacity":0.55,"interpolate":"monotone","clip":true},
 "encoding":{"y":{"field":"v","type":"quantitative","title":null}}},
{"data":{"name":"pink"},"mark":{"type":"line","color":"#f77c80","strokeWidth":1.8,"opacity":0.7,"interpolate":"monotone","clip":true},
 "encoding":{"y":{"field":"v","type":"quantitative","title":null}}},
{"data":{"values":[{"t":0,"t2":2302,"p":212.07}]},"mark":{"type":"rule","color":"#3fb24a","strokeWidth":1.2,"strokeDash":[1.2,2.6]},
 "encoding":{"x":{"field":"t","type":"quantitative"},"x2":{"field":"t2"},"y":{"field":"p","type":"quantitative","title":null}}},
{"data":{"values":[{"t":306,"p":214.12,"label":"GBPJPY-4h-chart"}]},"mark":{"type":"text","align":"left","baseline":"middle","font":"Lato","fontStyle":"italic","fontWeight":"bold","fontSize":43,"color":"#9598a1"},
 "encoding":{"y":{"field":"p","type":"quantitative","title":null},"text":{"field":"label"}}},
{"data":{"values":[{"t":1896,"p":200.88,"label":"FastBull"}]},"mark":{"type":"text","align":"left","baseline":"middle","font":"Inter","fontWeight":900,"fontSize":49,"color":"#f6f6f6"},
 "encoding":{"y":{"field":"p","type":"quantitative","title":null},"text":{"field":"label"}}},
{"data":{"values":[{"t":2302,"t2":2422,"p":212.27,"p2":211.45}]},"mark":{"type":"rect","color":"#4caf50","cornerRadius":2},
 "encoding":{"x":{"field":"t","type":"quantitative"},"x2":{"field":"t2"},"y":{"field":"p","type":"quantitative","title":null},"y2":{"field":"p2"}}},
{"data":{"values":[{"t":2308,"t2":2424,"p":220.27,"p2":219.6}]},"mark":{"type":"rect","fill":"#ffffff","stroke":"#e0e3eb","strokeWidth":1,"cornerRadius":5},
 "encoding":{"x":{"field":"t","type":"quantitative"},"x2":{"field":"t2"},"y":{"field":"p","type":"quantitative","title":null},"y2":{"field":"p2"}}},
{"data":{"values":[{"t":2318,"p":212.03,"label":"212.070"}]},"mark":{"type":"text","align":"left","baseline":"middle","font":"Liberation Sans","fontWeight":"bold","fontSize":12,"color":"#ffffff"},
 "encoding":{"y":{"field":"p","type":"quantitative","title":null},"text":{"field":"label"}}},
{"data":{"values":[{"t":2318,"p":211.66,"label":"02:46:10"}]},"mark":{"type":"text","align":"left","baseline":"middle","font":"Liberation Sans","fontSize":12,"color":"#c8e6c9"},
 "encoding":{"y":{"field":"p","type":"quantitative","title":null},"text":{"field":"label"}}},
{"data":{"values":[{"t":2316,"p":219.94,"label":"JPY"}]},"mark":{"type":"text","align":"left","baseline":"middle","font":"Liberation Sans","fontSize":12,"color":"#131722"},
 "encoding":{"y":{"field":"p","type":"quantitative","title":null},"text":{"field":"label"}}},
{"data":{"values":[{"t":2408,"p":219.97,"label":"⌄"}]},"mark":{"type":"text","align":"center","baseline":"middle","font":"DejaVu Sans","fontSize":10,"fontWeight":"bold","color":"#131722"},
 "encoding":{"y":{"field":"p","type":"quantitative","title":null},"text":{"field":"label"}}}
]
}
